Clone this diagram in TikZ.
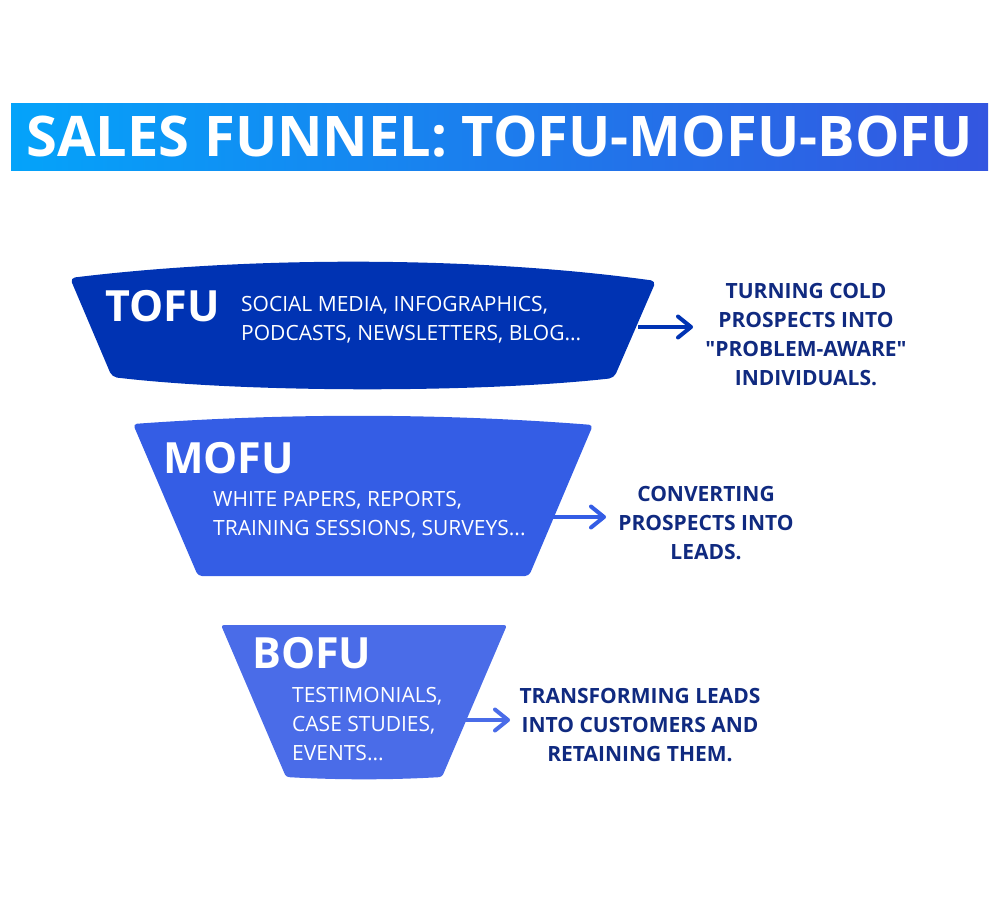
\documentclass[tikz,border=0pt]{standalone}
\usepackage{fontspec}
\setmainfont{Open Sans}[Ligatures=TeXOff]
\usetikzlibrary{arrows.meta}
\definecolor{titleleft}{RGB}{4,163,250}
\definecolor{titleright}{RGB}{52,86,224}
\definecolor{tofublue}{RGB}{0,51,179}
\definecolor{mofublue}{RGB}{52,93,229}
\definecolor{bofublue}{RGB}{74,108,232}
\definecolor{goalnavy}{RGB}{16,42,128}
\tikzstyle{title}=[inner sep=0, text=white, font=\fontsize{56}{56}\selectfont\bfseries]
\tikzstyle{stage}=[anchor=base west, inner sep=0, text=white, font=\fontsize{43}{43}\selectfont\bfseries]
\tikzstyle{media}=[anchor=west, inner sep=0, text=white, align=left, font=\fontsize{21}{29}\selectfont]
\tikzstyle{goal}=[inner sep=0, text=goalnavy, align=center, font=\fontsize{21}{29}\selectfont\bfseries]
\tikzstyle{connect}=[line width=4pt, -{Straight Barb[round, length=13pt, width=21pt]}]

\begin{document}
\begin{tikzpicture}[x=1pt, y=-1pt]
    \useasboundingbox (0,0) rectangle (1000,900);

    % title bar
    \shade[left color=titleleft, right color=titleright] (11,103) rectangle (988,170);
    \node[title] (title) at (499.5,137) {SALES FUNNEL: TOFU-MOFU-BOFU};

    % funnel layers
    \fill[tofublue, rounded corners=5pt] (70,278) .. controls (250,256) and (476,256) .. (656,281)
        -- (614,378) .. controls (480,393) and (246,393) .. (112,377) -- cycle;
    \fill[mofublue, rounded corners=4pt] (133,424) .. controls (286,413) and (440,413) .. (593,425)
        -- (529,576) -- (198,576) -- cycle;
    \fill[bofublue, rounded corners=3pt] (221,625) -- (507,625) -- (442,777)
        .. controls (390,780) and (338,780) .. (286,777) -- cycle;

    % first row
    \node[stage] (tofu) at (105,321) {TOFU};
    \node[media] (tofumedia) at (241,320) {SOCIAL MEDIA, INFOGRAPHICS,\\PODCASTS, NEWSLETTERS, BLOG...};
    \node[goal] (tofugoal) at (806,335) {TURNING COLD\\PROSPECTS INTO\\"PROBLEM-AWARE"\\INDIVIDUALS.};
    \coordinate (tofuout) at (638,327);
    \coordinate (tofuin) at (693,327);

    % second row
    \node[stage] (mofu) at (163,473) {MOFU};
    \node[media] (mofumedia) at (213,515) {WHITE PAPERS, REPORTS,\\TRAINING SESSIONS, SURVEYS...};
    \node[goal] (mofugoal) at (706,523.5) {CONVERTING\\PROSPECTS INTO\\LEADS.};
    \coordinate (mofuout) at (553,517);
    \coordinate (mofuin) at (606,517);

    % third row
    \node[stage] (bofu) at (252,668) {BOFU};
    \node[media] (bofumedia) at (292,724) {TESTIMONIALS,\\CASE STUDIES,\\EVENTS...};
    \node[goal] (bofugoal) at (640,725) {TRANSFORMING LEADS\\INTO CUSTOMERS AND\\RETAINING THEM.};
    \coordinate (bofuout) at (465,720);
    \coordinate (bofuin) at (510,720);

    % Connect the layers to their goals
    \path
        (tofuout) edge [connect, tofublue] (tofuin)
        (mofuout) edge [connect, mofublue] (mofuin)
        (bofuout) edge [connect, bofublue] (bofuin)
        ;
\end{tikzpicture}
\end{document}
